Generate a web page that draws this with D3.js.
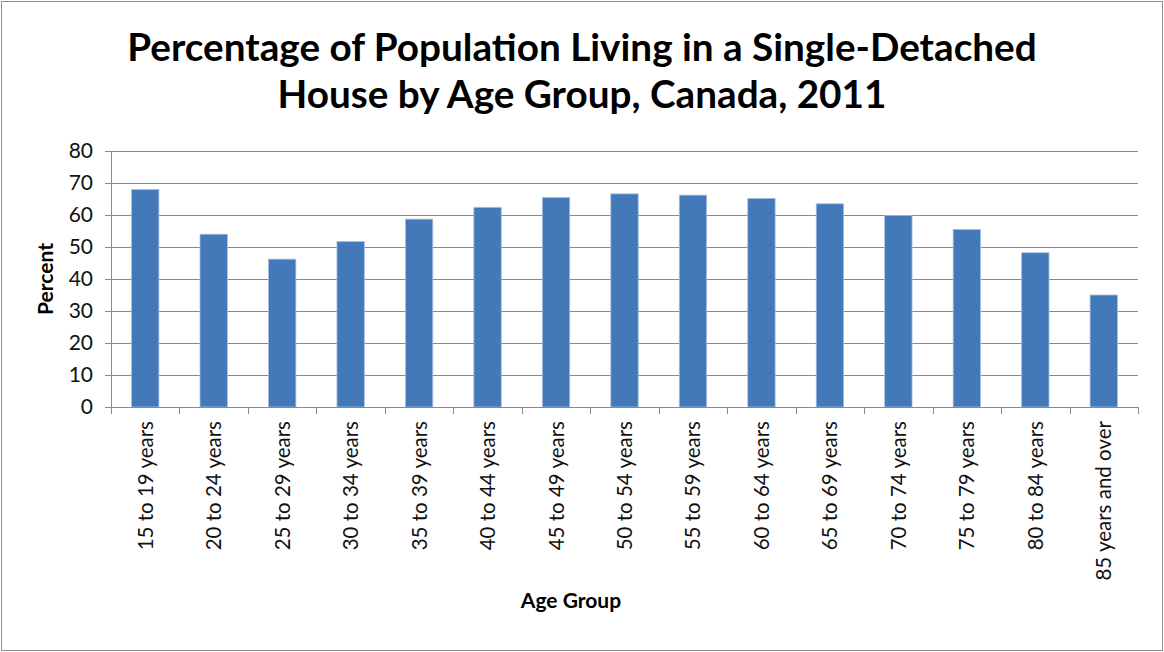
<!DOCTYPE html>
<meta charset="utf-8">
<script src="https://d3js.org/d3.v7.min.js"></script>
<style>
  body { margin: 0; background: #fff; }
  text { font-family: Lato, "Open Sans", sans-serif; }
</style>
<div id="page"></div>
<script>

  // Data
  var ageGroups = ["15 to 19 years", "20 to 24 years", "25 to 29 years", "30 to 34 years",
    "35 to 39 years", "40 to 44 years", "45 to 49 years", "50 to 54 years", "55 to 59 years",
    "60 to 64 years", "65 to 69 years", "70 to 74 years", "75 to 79 years", "80 to 84 years",
    "85 years and over"];
  var percents = [68.0, 54.0, 46.2, 51.7, 58.7, 62.4, 65.5, 66.6, 66.2, 65.2, 63.5, 59.8, 55.5, 48.2, 35.0];
  var yTicks = [0, 10, 20, 30, 40, 50, 60, 70, 80];
  var titleLines = ["Percentage of Population Living in a Single-Detached", "House by Age Group, Canada, 2011"];

  var W = 1164, H = 652;
  var margin = { top: 151, right: 26, bottom: 245, left: 111 },
    width = W - margin.left - margin.right,
    height = H - margin.top - margin.bottom;

  var root = d3.select("#page")
    .append("svg")
    .attr("width", W)
    .attr("height", H);

  // outer frame
  root.append("rect")
    .attr("x", 1.5).attr("y", 1.5)
    .attr("width", W - 3).attr("height", H - 3)
    .attr("fill", "none")
    .attr("stroke", "#8c8c8c");

  // title
  root.append("text")
    .attr("text-anchor", "middle")
    .attr("font-size", "38.7px")
    .attr("font-weight", "bold")
    .selectAll("tspan")
    .data(titleLines)
    .enter()
    .append("tspan")
    .attr("x", 582)
    .attr("y", function (d, i) { return 61 + i * 47; })
    .text(function (d) { return d; });

  var svg = root.append("g")
    .attr("transform", "translate(" + margin.left + "," + margin.top + ")");

  // scales
  var x = d3.scaleBand()
    .domain(ageGroups)
    .range([0, width])
    .paddingInner(0.6)
    .paddingOuter(0.3);

  var y = d3.scaleLinear()
    .domain([0, 80])
    .range([height, 0]);

  // gridlines
  svg.append("g")
    .selectAll("line")
    .data(yTicks.slice(1))
    .enter()
    .append("line")
    .attr("x1", 0).attr("x2", width)
    .attr("y1", function (d) { return Math.round(y(d)) + 0.5; })
    .attr("y2", function (d) { return Math.round(y(d)) + 0.5; })
    .attr("stroke", "#8a8a8a")
    .attr("stroke-width", 1);

  // y axis
  var yAxis = svg.append("g")
    .call(d3.axisLeft(y).tickValues(yTicks).tickSize(6).tickPadding(12));
  yAxis.select(".domain").attr("stroke", "#8a8a8a");
  yAxis.selectAll(".tick line").attr("stroke", "#8a8a8a");
  yAxis.selectAll("text")
    .attr("font-size", "21px")
    .attr("fill", "#111")
    .style("font-family", "Lato, sans-serif");

  // bars
  svg.selectAll("rect.bar")
    .data(percents)
    .enter()
    .append("rect")
    .attr("class", "bar")
    .attr("x", function (d, i) { return x(ageGroups[i]); })
    .attr("width", x.bandwidth())
    .attr("y", function (d) { return y(d); })
    .attr("height", function (d) { return height - y(d); })
    .attr("fill", "#4379b9")
    .attr("stroke", "#a6c0e2")
    .attr("stroke-width", 0.8);

  // x axis with ticks at band boundaries
  var xAxis = svg.append("g")
    .attr("transform", "translate(0," + height + ")");
  xAxis.append("line")
    .attr("x1", 0).attr("x2", width)
    .attr("y1", 0.5).attr("y2", 0.5)
    .attr("stroke", "#8a8a8a");
  xAxis.selectAll("line.tk")
    .data(d3.range(ageGroups.length + 1))
    .enter()
    .append("line")
    .attr("class", "tk")
    .attr("x1", function (i) { return Math.round(i * x.step()) + 0.5; })
    .attr("x2", function (i) { return Math.round(i * x.step()) + 0.5; })
    .attr("y1", 0).attr("y2", 7)
    .attr("stroke", "#8a8a8a");
  xAxis.selectAll("text")
    .data(ageGroups)
    .enter()
    .append("text")
    .attr("transform", function (d) {
      return "translate(" + (x(d) + x.bandwidth() / 2 + 7.5) + ",14)rotate(-90)";
    })
    .attr("text-anchor", "end")
    .attr("font-size", "20.5px")
    .attr("fill", "#111")
    .text(function (d) { return d; });

  // axis titles
  root.append("text")
    .attr("transform", "translate(53,279)rotate(-90)")
    .attr("text-anchor", "middle")
    .attr("font-size", "21px")
    .attr("font-weight", "bold")
    .text("Percent");

  root.append("text")
    .attr("x", 571)
    .attr("y", 608)
    .attr("text-anchor", "middle")
    .attr("font-size", "21px")
    .attr("font-weight", "bold")
    .text("Age Group");

</script>
